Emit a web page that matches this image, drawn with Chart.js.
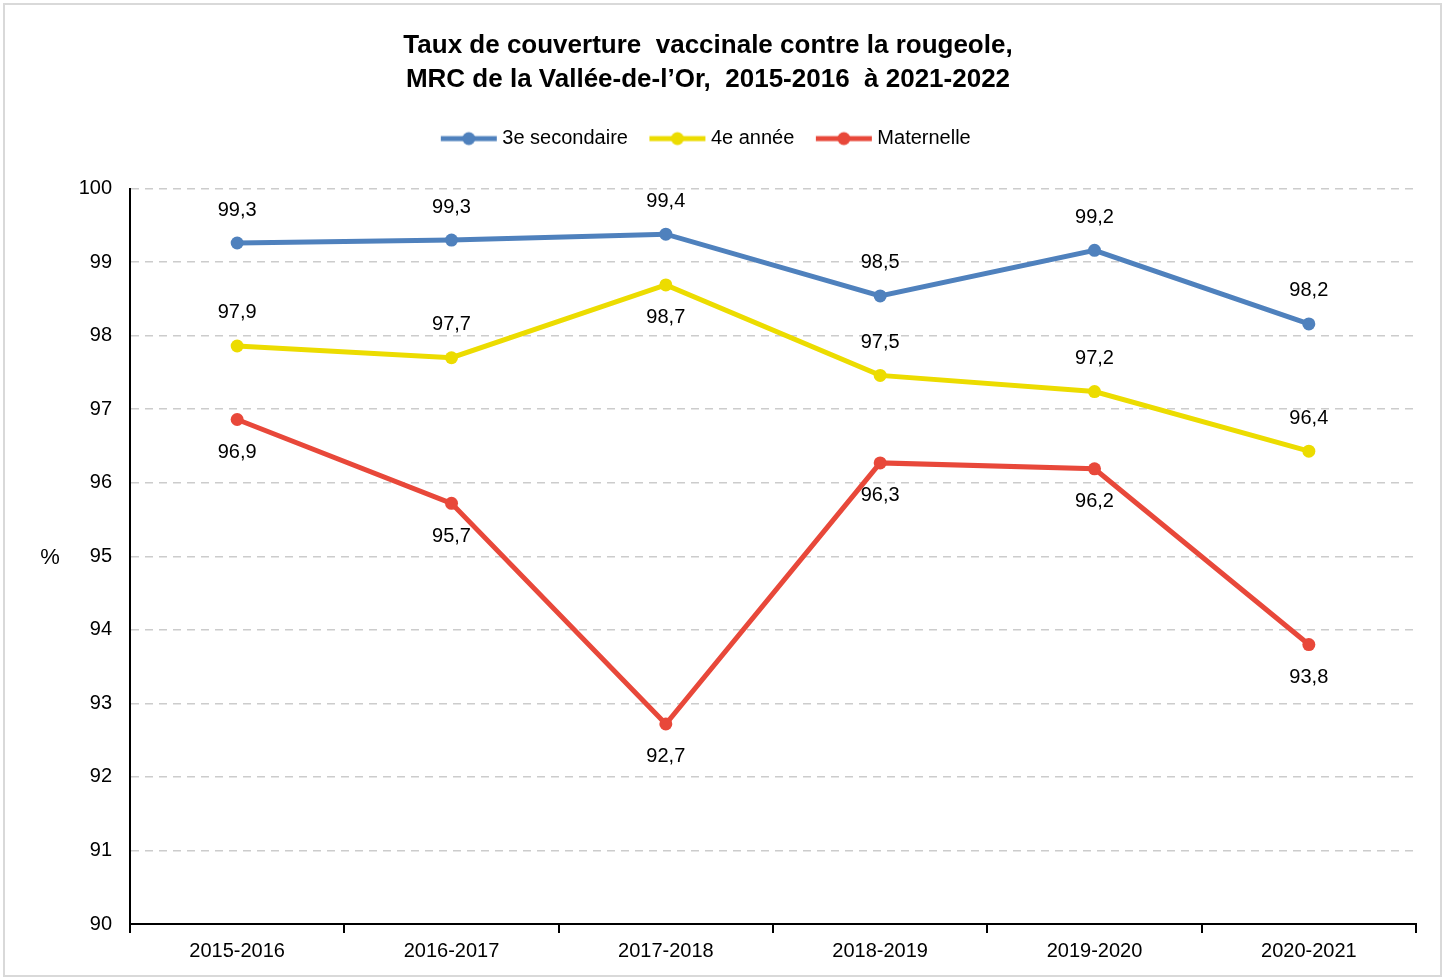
<!DOCTYPE html>
<html>
<head>
<meta charset="utf-8">
<script src="https://cdn.jsdelivr.net/npm/chart.js@4.4.1/dist/chart.umd.min.js"></script>
<style>
  html, body { margin: 0; padding: 0; background: #fff; }
  #wrap { width: 1449px; height: 980px; }
</style>
</head>
<body>
<div id="wrap"><canvas id="rougeoleChart" width="1449" height="980"></canvas></div>
<script>
// Données
const annees = ['2015-2016', '2016-2017', '2017-2018', '2018-2019', '2019-2020', '2020-2021'];
const secondaire3 = [99.26, 99.30, 99.38, 98.54, 99.16, 98.16];
const annee4 = [97.86, 97.70, 98.69, 97.46, 97.24, 96.43];
const maternelle = [96.86, 95.72, 92.72, 96.27, 96.19, 93.80];
// position des étiquettes : -1 au-dessus, 1 en dessous
const posSecondaire = [-1, -1, -1, -1, -1, -1];
const posAnnee4 = [-1, -1, 1, -1, -1, -1];
const posMaternelle = [1, 1, 1, 1, 1, 1];

const police = "'Liberation Sans', Arial, sans-serif";
const bleu = '#4f81bd';
const jaune = '#ecdc00';
const rouge = '#e8483a';

// petit symbole de légende : ligne + point
function symbole(couleur) {
  const c = document.createElement('canvas');
  c.width = 58; c.height = 16;
  const g = c.getContext('2d');
  g.strokeStyle = couleur;
  g.lineWidth = 5;
  g.beginPath(); g.moveTo(1, 8); g.lineTo(57, 8); g.stroke();
  g.fillStyle = couleur;
  g.beginPath(); g.arc(29, 8, 6.5, 0, Math.PI * 2); g.fill();
  return c;
}

// étiquettes de données + "%" + cadre
const etiquettes = {
  id: 'etiquettes',
  beforeInit(chart) {
    // un peu plus d'espace sous la légende
    const fitOrig = chart.legend.fit;
    chart.legend.fit = function () {
      fitOrig.call(this);
      this.height += 30;
    };
  },
  afterDatasetsDraw(chart) {
    const ctx = chart.ctx;
    ctx.save();
    ctx.font = '20px ' + police;
    ctx.fillStyle = '#000';
    ctx.textAlign = 'center';
    ctx.textBaseline = 'middle';
    chart.data.datasets.forEach((ds, i) => {
      const meta = chart.getDatasetMeta(i);
      meta.data.forEach((pt, j) => {
        const txt = ds.data[j].toFixed(1).replace('.', ',');
        ctx.fillText(txt, pt.x, pt.y + ds.posEtiquettes[j] * 33);
      });
    });
    ctx.font = '22px ' + police;
    ctx.fillText('%', 50, 558);
    ctx.restore();
  },
  beforeDraw(chart) {
    const ctx = chart.ctx;
    ctx.save();
    ctx.fillStyle = '#fff';
    ctx.fillRect(0, 0, chart.width, chart.height);
    ctx.strokeStyle = '#d9d9d9';
    ctx.lineWidth = 2;
    ctx.strokeRect(4, 4, 1437, 972);
    ctx.restore();
  }
};

const ctx1 = document.getElementById('rougeoleChart').getContext('2d');
new Chart(ctx1, {
  type: 'line',
  data: {
    labels: annees,
    datasets: [
      { label: '3e secondaire', data: secondaire3, posEtiquettes: posSecondaire,
        borderColor: bleu, backgroundColor: bleu },
      { label: '4e année', data: annee4, posEtiquettes: posAnnee4,
        borderColor: jaune, backgroundColor: jaune },
      { label: 'Maternelle', data: maternelle, posEtiquettes: posMaternelle,
        borderColor: rouge, backgroundColor: rouge }
    ]
  },
  options: {
    responsive: false,
    animation: false,
    layout: { padding: { left: 0, right: 33, top: 0, bottom: 11 } },
    elements: {
      line: { borderWidth: 5, tension: 0 },
      point: { radius: 6.5, hoverRadius: 6.5, borderWidth: 0, pointStyle: 'circle' }
    },
    plugins: {
      tooltip: { enabled: false },
      title: {
        display: true,
        text: ['Taux de couverture  vaccinale contre la rougeole,', 'MRC de la Vallée-de-l\u2019Or,  2015-2016  à 2021-2022'],
        color: '#000',
        font: { family: police, size: 26, weight: 'bold', lineHeight: 1.3 },
        padding: { top: 29, bottom: 6 }
      },
      legend: {
        display: true,
        position: 'top',
        labels: {
          color: '#000',
          font: { family: police, size: 20 },
          padding: 26,
          usePointStyle: true,
          pointStyleWidth: 47,
          generateLabels(chart) {
            return chart.data.datasets.map((ds, i) => ({
              text: ds.label,
              fillStyle: ds.borderColor,
              strokeStyle: ds.borderColor,
              lineWidth: 0,
              pointStyle: symbole(ds.borderColor),
              hidden: false,
              datasetIndex: i,
              fontColor: '#000'
            }));
          }
        }
      }
    },
    scales: {
      x: {
        offset: true,
        border: { display: true, color: '#000', width: 2 },
        grid: { display: true, offset: true, drawOnChartArea: false, drawTicks: true, tickLength: 9, color: '#000', lineWidth: 2 },
        ticks: { color: '#000', font: { family: police, size: 20 }, padding: 6, maxRotation: 0 }
      },
      y: {
        min: 90,
        max: 100,
        afterFit(scale) { scale.width = 130; },
        border: { display: true, color: '#000', width: 2, dash: [8, 6] },
        grid: { color: '#cccccc', lineWidth: 1.5, drawTicks: false },
        ticks: { stepSize: 1, color: '#000', font: { family: police, size: 20 }, padding: 18 }
      }
    }
  },
  plugins: [etiquettes]
});
</script>
</body>
</html>
